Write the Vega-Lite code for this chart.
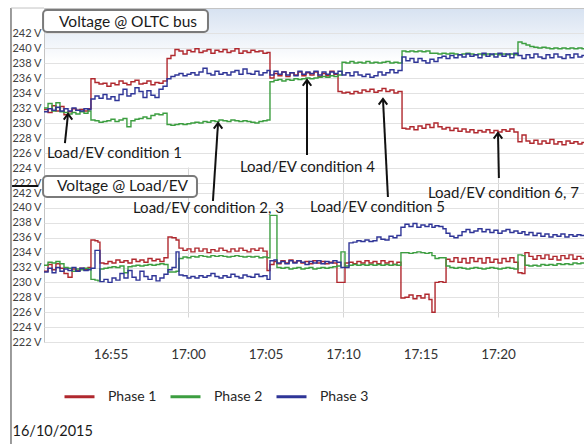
{
  "$schema": "https://vega.github.io/schema/vega-lite/v6.json",
  "width": 540,
  "height": 334,
  "autosize": {"type": "none"},
  "padding": {"left": 44, "top": 8, "right": 0, "bottom": 102},
  "background": "white",
  "config": {
    "view": {
      "stroke": "#c4c4c4",
      "fill": {"gradient": "linear", "x1": 0, "y1": 0, "x2": 0, "y2": 1,
        "stops": [{"offset": 0, "color": "#d7e2f1"}, {"offset": 0.16, "color": "#ffffff"}, {"offset": 1, "color": "#ffffff"}]}
    },
    "axis": {"labelOverlap": false},
    "font": "Lato"
  },
  "datasets": {
    "oltc": [
      {"t":50.71,"p1":231.8,"p2":232.0,"p3":231.5},
      {"t":50.97,"p1":231.4,"p2":232.6,"p3":231.9},
      {"t":51.23,"p1":232.3,"p2":231.6,"p3":231.7},
      {"t":51.48,"p1":231.6,"p2":232.7,"p3":232.1},
      {"t":51.74,"p1":232.2,"p2":231.5,"p3":231.6},
      {"t":52.00,"p1":231.1,"p2":231.4,"p3":231.9},
      {"t":52.26,"p1":231.5,"p2":231.2,"p3":231.6},
      {"t":52.52,"p1":231.9,"p2":231.4,"p3":232.0},
      {"t":52.77,"p1":231.7,"p2":231.2,"p3":231.7},
      {"t":53.03,"p1":231.8,"p2":231.5,"p3":231.6},
      {"t":53.29,"p1":231.6,"p2":231.3,"p3":231.9},
      {"t":53.55,"p1":231.9,"p2":231.6,"p3":231.8},
      {"t":53.74,"p1":235.9,"p2":230.4,"p3":233.2},
      {"t":54.00,"p1":235.4,"p2":230.3,"p3":233.6},
      {"t":54.26,"p1":235.2,"p2":230.1,"p3":233.3},
      {"t":54.52,"p1":235.3,"p2":230.2,"p3":233.8},
      {"t":54.77,"p1":234.9,"p2":230.3,"p3":233.2},
      {"t":55.03,"p1":235.3,"p2":230.5,"p3":233.5},
      {"t":55.29,"p1":235.1,"p2":230.2,"p3":233.0},
      {"t":55.55,"p1":235.6,"p2":230.4,"p3":233.8},
      {"t":55.81,"p1":235.3,"p2":230.6,"p3":234.5},
      {"t":56.06,"p1":235.1,"p2":229.5,"p3":233.6},
      {"t":56.32,"p1":235.5,"p2":230.3,"p3":233.9},
      {"t":56.58,"p1":235.7,"p2":230.5,"p3":234.7},
      {"t":56.84,"p1":235.2,"p2":230.6,"p3":234.2},
      {"t":57.10,"p1":235.3,"p2":230.8,"p3":233.4},
      {"t":57.35,"p1":235.6,"p2":230.6,"p3":234.3},
      {"t":57.61,"p1":235.1,"p2":231.0,"p3":233.7},
      {"t":57.87,"p1":235.4,"p2":231.2,"p3":233.4},
      {"t":58.13,"p1":235.3,"p2":231.1,"p3":234.5},
      {"t":58.39,"p1":235.6,"p2":231.3,"p3":234.9},
      {"t":58.65,"p1":238.6,"p2":229.8,"p3":235.9},
      {"t":58.90,"p1":239.0,"p2":229.7,"p3":236.2},
      {"t":59.16,"p1":239.8,"p2":229.8,"p3":236.4},
      {"t":59.42,"p1":239.6,"p2":229.9,"p3":236.6},
      {"t":59.68,"p1":239.2,"p2":229.8,"p3":236.3},
      {"t":59.94,"p1":239.7,"p2":229.9,"p3":236.5},
      {"t":60.19,"p1":239.5,"p2":230.0,"p3":236.7},
      {"t":60.45,"p1":239.9,"p2":230.1,"p3":236.4},
      {"t":60.71,"p1":239.4,"p2":230.0,"p3":236.8},
      {"t":60.97,"p1":239.6,"p2":230.2,"p3":237.3},
      {"t":61.23,"p1":239.8,"p2":230.1,"p3":236.6},
      {"t":61.48,"p1":239.3,"p2":230.3,"p3":236.4},
      {"t":61.74,"p1":239.7,"p2":230.2,"p3":236.9},
      {"t":62.00,"p1":239.5,"p2":230.4,"p3":236.5},
      {"t":62.26,"p1":239.8,"p2":230.3,"p3":236.7},
      {"t":62.52,"p1":239.4,"p2":230.2,"p3":236.4},
      {"t":62.77,"p1":239.6,"p2":230.4,"p3":236.8},
      {"t":63.03,"p1":239.9,"p2":230.3,"p3":237.0},
      {"t":63.29,"p1":239.3,"p2":230.2,"p3":236.5},
      {"t":63.55,"p1":239.6,"p2":230.3,"p3":237.2},
      {"t":63.81,"p1":239.4,"p2":230.2,"p3":236.6},
      {"t":64.06,"p1":239.7,"p2":230.1,"p3":236.5},
      {"t":64.32,"p1":239.5,"p2":230.0,"p3":236.9},
      {"t":64.58,"p1":239.6,"p2":230.2,"p3":236.4},
      {"t":64.84,"p1":239.3,"p2":230.3,"p3":236.7},
      {"t":65.10,"p1":239.4,"p2":230.4,"p3":237.0},
      {"t":65.29,"p1":236.0,"p2":235.5,"p3":236.4},
      {"t":65.55,"p1":236.6,"p2":235.7,"p3":236.9},
      {"t":65.81,"p1":236.3,"p2":235.8,"p3":236.5},
      {"t":66.06,"p1":236.8,"p2":235.6,"p3":236.8},
      {"t":66.32,"p1":236.2,"p2":235.8,"p3":236.4},
      {"t":66.58,"p1":236.7,"p2":235.7,"p3":236.7},
      {"t":66.84,"p1":236.4,"p2":235.9,"p3":236.3},
      {"t":67.10,"p1":236.8,"p2":235.8,"p3":236.9},
      {"t":67.35,"p1":236.3,"p2":235.9,"p3":236.5},
      {"t":67.61,"p1":236.7,"p2":236.0,"p3":236.8},
      {"t":67.87,"p1":236.4,"p2":235.9,"p3":236.6},
      {"t":68.13,"p1":236.8,"p2":236.0,"p3":236.9},
      {"t":68.39,"p1":236.2,"p2":236.1,"p3":236.4},
      {"t":68.65,"p1":236.6,"p2":236.2,"p3":236.8},
      {"t":68.90,"p1":236.3,"p2":236.1,"p3":236.5},
      {"t":69.16,"p1":236.9,"p2":236.3,"p3":236.8},
      {"t":69.42,"p1":236.5,"p2":236.2,"p3":236.6},
      {"t":69.68,"p1":234.2,"p2":236.4,"p3":236.9},
      {"t":69.94,"p1":234.0,"p2":238.1,"p3":236.4},
      {"t":70.19,"p1":234.1,"p2":238.0,"p3":236.7},
      {"t":70.45,"p1":233.9,"p2":238.2,"p3":236.3},
      {"t":70.71,"p1":234.2,"p2":238.0,"p3":236.8},
      {"t":70.97,"p1":234.0,"p2":238.1,"p3":236.4},
      {"t":71.23,"p1":234.4,"p2":238.0,"p3":236.2},
      {"t":71.48,"p1":234.2,"p2":238.2,"p3":236.5},
      {"t":71.74,"p1":234.5,"p2":238.0,"p3":236.1},
      {"t":72.00,"p1":234.1,"p2":238.1,"p3":236.3},
      {"t":72.26,"p1":234.3,"p2":238.0,"p3":236.8},
      {"t":72.52,"p1":234.6,"p2":238.1,"p3":236.4},
      {"t":72.77,"p1":234.2,"p2":238.2,"p3":236.7},
      {"t":73.03,"p1":234.4,"p2":238.0,"p3":237.1},
      {"t":73.29,"p1":234.0,"p2":238.1,"p3":236.7},
      {"t":73.55,"p1":234.2,"p2":238.0,"p3":237.0},
      {"t":73.81,"p1":229.3,"p2":239.6,"p3":238.8},
      {"t":74.06,"p1":229.2,"p2":239.5,"p3":238.3},
      {"t":74.32,"p1":229.5,"p2":239.6,"p3":238.6},
      {"t":74.58,"p1":229.1,"p2":239.5,"p3":238.1},
      {"t":74.84,"p1":229.6,"p2":239.6,"p3":238.6},
      {"t":75.10,"p1":229.3,"p2":239.5,"p3":238.3},
      {"t":75.35,"p1":229.8,"p2":239.6,"p3":238.0},
      {"t":75.61,"p1":229.4,"p2":239.3,"p3":238.5},
      {"t":75.87,"p1":230.0,"p2":239.3,"p3":238.2},
      {"t":76.13,"p1":229.5,"p2":239.2,"p3":238.7},
      {"t":76.39,"p1":229.2,"p2":239.3,"p3":238.9},
      {"t":76.65,"p1":229.4,"p2":239.2,"p3":238.6},
      {"t":76.90,"p1":229.0,"p2":239.3,"p3":239.0},
      {"t":77.16,"p1":229.3,"p2":239.2,"p3":238.7},
      {"t":77.42,"p1":228.9,"p2":239.1,"p3":239.1},
      {"t":77.68,"p1":229.2,"p2":239.2,"p3":238.8},
      {"t":77.94,"p1":228.8,"p2":239.3,"p3":239.2},
      {"t":78.19,"p1":229.1,"p2":239.2,"p3":238.9},
      {"t":78.45,"p1":228.7,"p2":239.1,"p3":239.1},
      {"t":78.71,"p1":229.0,"p2":239.2,"p3":238.7},
      {"t":78.97,"p1":228.8,"p2":239.1,"p3":239.3},
      {"t":79.23,"p1":229.1,"p2":239.2,"p3":238.9},
      {"t":79.48,"p1":228.7,"p2":239.1,"p3":239.2},
      {"t":79.74,"p1":229.0,"p2":239.2,"p3":238.8},
      {"t":80.00,"p1":228.8,"p2":239.1,"p3":239.3},
      {"t":80.26,"p1":229.1,"p2":239.2,"p3":238.9},
      {"t":80.52,"p1":228.9,"p2":239.1,"p3":239.2},
      {"t":80.77,"p1":229.2,"p2":239.2,"p3":238.7},
      {"t":81.03,"p1":228.8,"p2":239.1,"p3":239.3},
      {"t":81.29,"p1":227.5,"p2":240.8,"p3":239.0},
      {"t":81.55,"p1":228.4,"p2":240.6,"p3":238.6},
      {"t":81.81,"p1":227.6,"p2":240.4,"p3":239.1},
      {"t":82.06,"p1":227.3,"p2":240.2,"p3":238.7},
      {"t":82.32,"p1":227.7,"p2":240.1,"p3":239.2},
      {"t":82.58,"p1":227.2,"p2":240.0,"p3":238.8},
      {"t":82.84,"p1":227.6,"p2":240.1,"p3":238.6},
      {"t":83.10,"p1":227.3,"p2":240.0,"p3":239.1},
      {"t":83.35,"p1":227.8,"p2":239.9,"p3":238.7},
      {"t":83.61,"p1":227.2,"p2":240.0,"p3":239.2},
      {"t":83.87,"p1":227.5,"p2":239.9,"p3":238.8},
      {"t":84.13,"p1":227.1,"p2":240.0,"p3":238.6},
      {"t":84.39,"p1":227.6,"p2":239.9,"p3":239.1},
      {"t":84.65,"p1":227.3,"p2":240.0,"p3":238.7},
      {"t":84.90,"p1":227.5,"p2":239.9,"p3":239.2},
      {"t":85.16,"p1":227.2,"p2":240.0,"p3":238.8},
      {"t":85.42,"p1":227.4,"p2":239.9,"p3":239.0},
      {"t":85.68,"p1":227.3,"p2":240.0,"p3":238.9}
    ],
    "load": [
      {"t":50.71,"p1":231.5,"p2":232.3,"p3":231.4},
      {"t":50.97,"p1":232.4,"p2":232.7,"p3":231.9},
      {"t":51.23,"p1":231.7,"p2":232.6,"p3":231.3},
      {"t":51.48,"p1":232.5,"p2":232.8,"p3":232.0},
      {"t":51.74,"p1":231.9,"p2":232.5,"p3":231.5},
      {"t":52.00,"p1":231.2,"p2":232.0,"p3":231.8},
      {"t":52.26,"p1":230.7,"p2":231.9,"p3":231.6},
      {"t":52.52,"p1":231.8,"p2":231.5,"p3":232.0},
      {"t":52.77,"p1":231.6,"p2":231.8,"p3":231.5},
      {"t":53.03,"p1":231.9,"p2":231.7,"p3":231.9},
      {"t":53.29,"p1":231.7,"p2":231.9,"p3":231.6},
      {"t":53.55,"p1":232.0,"p2":231.8,"p3":231.7},
      {"t":53.74,"p1":235.7,"p2":230.4,"p3":231.9},
      {"t":54.00,"p1":235.6,"p2":230.3,"p3":234.3},
      {"t":54.19,"p1":235.4,"p2":230.2,"p3":234.3},
      {"t":54.32,"p1":232.6,"p2":231.8,"p3":230.1},
      {"t":54.58,"p1":232.5,"p2":231.9,"p3":230.4},
      {"t":54.84,"p1":232.8,"p2":232.0,"p3":230.0},
      {"t":55.10,"p1":232.6,"p2":232.1,"p3":230.6},
      {"t":55.35,"p1":233.0,"p2":232.0,"p3":230.3},
      {"t":55.61,"p1":232.7,"p2":232.2,"p3":231.2},
      {"t":55.87,"p1":232.9,"p2":231.3,"p3":230.6},
      {"t":56.13,"p1":232.6,"p2":232.1,"p3":231.6},
      {"t":56.39,"p1":233.1,"p2":232.2,"p3":230.7},
      {"t":56.65,"p1":232.8,"p2":232.3,"p3":230.3},
      {"t":56.90,"p1":233.0,"p2":232.2,"p3":231.5},
      {"t":57.16,"p1":232.7,"p2":232.3,"p3":230.8},
      {"t":57.42,"p1":233.2,"p2":232.4,"p3":230.4},
      {"t":57.68,"p1":232.9,"p2":232.3,"p3":230.9},
      {"t":57.94,"p1":233.1,"p2":232.4,"p3":230.2},
      {"t":58.19,"p1":232.8,"p2":232.5,"p3":230.6},
      {"t":58.45,"p1":233.3,"p2":232.4,"p3":231.1},
      {"t":58.71,"p1":236.1,"p2":231.4,"p3":231.7},
      {"t":58.97,"p1":236.0,"p2":231.4,"p3":232.0},
      {"t":59.23,"p1":235.7,"p2":231.5,"p3":234.1},
      {"t":59.42,"p1":234.6,"p2":233.2,"p3":231.0},
      {"t":59.68,"p1":234.3,"p2":233.4,"p3":230.9},
      {"t":59.94,"p1":234.5,"p2":233.3,"p3":230.6},
      {"t":60.19,"p1":234.1,"p2":233.5,"p3":230.8},
      {"t":60.45,"p1":234.6,"p2":233.4,"p3":230.6},
      {"t":60.71,"p1":234.2,"p2":233.6,"p3":230.9},
      {"t":60.97,"p1":234.5,"p2":233.5,"p3":230.7},
      {"t":61.23,"p1":234.0,"p2":233.4,"p3":230.9},
      {"t":61.48,"p1":234.4,"p2":233.6,"p3":231.2},
      {"t":61.74,"p1":234.2,"p2":233.5,"p3":230.8},
      {"t":62.00,"p1":234.6,"p2":233.6,"p3":230.6},
      {"t":62.26,"p1":234.3,"p2":233.5,"p3":230.9},
      {"t":62.52,"p1":234.1,"p2":233.4,"p3":230.7},
      {"t":62.77,"p1":234.5,"p2":233.5,"p3":231.1},
      {"t":63.03,"p1":234.2,"p2":233.6,"p3":230.8},
      {"t":63.29,"p1":234.6,"p2":233.5,"p3":230.6},
      {"t":63.55,"p1":234.3,"p2":233.4,"p3":231.0},
      {"t":63.81,"p1":234.1,"p2":233.5,"p3":230.8},
      {"t":64.06,"p1":234.5,"p2":233.4,"p3":230.7},
      {"t":64.32,"p1":234.3,"p2":233.5,"p3":231.1},
      {"t":64.58,"p1":234.6,"p2":233.3,"p3":230.8},
      {"t":64.84,"p1":234.2,"p2":233.4,"p3":230.9},
      {"t":65.10,"p1":231.6,"p2":233.3,"p3":230.4},
      {"t":65.29,"p1":232.4,"p2":239.0,"p3":232.9},
      {"t":65.55,"p1":232.8,"p2":239.0,"p3":233.0},
      {"t":65.74,"p1":232.5,"p2":232.0,"p3":232.6},
      {"t":66.00,"p1":232.9,"p2":231.9,"p3":232.8},
      {"t":66.26,"p1":232.6,"p2":232.0,"p3":232.5},
      {"t":66.52,"p1":233.0,"p2":231.8,"p3":232.9},
      {"t":66.77,"p1":232.7,"p2":231.9,"p3":232.6},
      {"t":67.03,"p1":232.9,"p2":232.0,"p3":232.9},
      {"t":67.29,"p1":232.6,"p2":231.8,"p3":232.7},
      {"t":67.55,"p1":232.8,"p2":231.9,"p3":232.4},
      {"t":67.81,"p1":232.5,"p2":232.0,"p3":232.8},
      {"t":68.06,"p1":232.9,"p2":231.8,"p3":232.6},
      {"t":68.32,"p1":232.6,"p2":231.9,"p3":232.9},
      {"t":68.58,"p1":232.8,"p2":232.0,"p3":232.5},
      {"t":68.84,"p1":232.5,"p2":231.9,"p3":232.8},
      {"t":69.10,"p1":232.7,"p2":232.0,"p3":232.6},
      {"t":69.35,"p1":232.6,"p2":232.1,"p3":232.9},
      {"t":69.61,"p1":230.0,"p2":232.2,"p3":232.7},
      {"t":69.87,"p1":230.0,"p2":234.1,"p3":232.0},
      {"t":70.13,"p1":232.6,"p2":232.2,"p3":232.0},
      {"t":70.39,"p1":232.7,"p2":232.3,"p3":235.3},
      {"t":70.65,"p1":232.5,"p2":232.4,"p3":235.4},
      {"t":70.90,"p1":232.8,"p2":232.3,"p3":235.6},
      {"t":71.16,"p1":232.6,"p2":232.4,"p3":235.5},
      {"t":71.42,"p1":232.9,"p2":232.3,"p3":235.7},
      {"t":71.68,"p1":232.6,"p2":232.4,"p3":235.5},
      {"t":71.94,"p1":232.8,"p2":232.3,"p3":235.6},
      {"t":72.19,"p1":232.5,"p2":232.4,"p3":236.1},
      {"t":72.45,"p1":232.9,"p2":232.3,"p3":235.8},
      {"t":72.71,"p1":232.6,"p2":232.4,"p3":235.7},
      {"t":72.97,"p1":232.8,"p2":232.3,"p3":236.2},
      {"t":73.23,"p1":232.4,"p2":232.4,"p3":236.0},
      {"t":73.48,"p1":232.7,"p2":232.3,"p3":236.3},
      {"t":73.74,"p1":227.9,"p2":234.0,"p3":237.4},
      {"t":74.00,"p1":228.0,"p2":234.0,"p3":237.8},
      {"t":74.26,"p1":228.3,"p2":233.9,"p3":237.5},
      {"t":74.52,"p1":227.8,"p2":234.0,"p3":237.9},
      {"t":74.77,"p1":228.2,"p2":234.1,"p3":237.4},
      {"t":75.03,"p1":227.9,"p2":234.0,"p3":237.7},
      {"t":75.29,"p1":228.4,"p2":233.9,"p3":237.5},
      {"t":75.55,"p1":227.7,"p2":234.0,"p3":237.8},
      {"t":75.74,"p1":226.0,"p2":233.6,"p3":237.4},
      {"t":75.94,"p1":230.0,"p2":233.2,"p3":237.6},
      {"t":76.19,"p1":230.1,"p2":233.3,"p3":237.5},
      {"t":76.45,"p1":230.0,"p2":233.3,"p3":237.2},
      {"t":76.65,"p1":233.1,"p2":232.2,"p3":236.6},
      {"t":76.90,"p1":232.8,"p2":232.0,"p3":236.2},
      {"t":77.16,"p1":233.3,"p2":231.9,"p3":236.0},
      {"t":77.42,"p1":232.7,"p2":232.0,"p3":236.3},
      {"t":77.68,"p1":233.2,"p2":231.9,"p3":236.8},
      {"t":77.94,"p1":232.6,"p2":231.8,"p3":237.1},
      {"t":78.19,"p1":233.3,"p2":231.9,"p3":236.7},
      {"t":78.45,"p1":232.8,"p2":232.0,"p3":236.9},
      {"t":78.71,"p1":233.2,"p2":231.9,"p3":237.2},
      {"t":78.97,"p1":232.6,"p2":231.8,"p3":236.8},
      {"t":79.23,"p1":233.3,"p2":231.9,"p3":237.1},
      {"t":79.48,"p1":232.7,"p2":232.0,"p3":236.7},
      {"t":79.74,"p1":233.1,"p2":231.9,"p3":237.0},
      {"t":80.00,"p1":232.6,"p2":231.8,"p3":236.6},
      {"t":80.26,"p1":233.2,"p2":231.9,"p3":236.9},
      {"t":80.52,"p1":232.8,"p2":232.0,"p3":237.1},
      {"t":80.77,"p1":233.3,"p2":231.9,"p3":236.7},
      {"t":81.03,"p1":232.7,"p2":231.8,"p3":236.9},
      {"t":81.29,"p1":231.3,"p2":233.7,"p3":236.6},
      {"t":81.55,"p1":231.2,"p2":233.6,"p3":236.8},
      {"t":81.74,"p1":234.0,"p2":232.3,"p3":236.4},
      {"t":82.00,"p1":233.5,"p2":232.2,"p3":236.7},
      {"t":82.26,"p1":233.1,"p2":232.3,"p3":236.3},
      {"t":82.52,"p1":233.6,"p2":232.2,"p3":236.6},
      {"t":82.77,"p1":233.2,"p2":232.4,"p3":236.2},
      {"t":83.03,"p1":233.7,"p2":232.3,"p3":236.5},
      {"t":83.29,"p1":233.1,"p2":232.4,"p3":236.1},
      {"t":83.55,"p1":233.5,"p2":232.3,"p3":236.4},
      {"t":83.81,"p1":233.0,"p2":232.5,"p3":236.2},
      {"t":84.06,"p1":233.6,"p2":232.4,"p3":236.5},
      {"t":84.32,"p1":233.2,"p2":232.5,"p3":236.1},
      {"t":84.58,"p1":233.7,"p2":232.4,"p3":236.4},
      {"t":84.84,"p1":233.1,"p2":232.6,"p3":236.2},
      {"t":85.10,"p1":233.5,"p2":232.5,"p3":236.4},
      {"t":85.35,"p1":233.2,"p2":232.6,"p3":236.3},
      {"t":85.68,"p1":233.4,"p2":232.6,"p3":236.3}
    ],
    "notes": [
      {"t":50.90,"v":226.0,"label":"Load/EV condition 1"},
      {"t":56.45,"v":218.67,"label":"Load/EV condition 2, 3"},
      {"t":63.35,"v":224.13,"label":"Load/EV condition 4"},
      {"t":67.87,"v":218.8,"label":"Load/EV condition 5"},
      {"t":75.48,"v":220.67,"label":"Load/EV condition 6, 7"}
    ],
    "arrows": [
      {"t":52.06,"v":227.33,"t2":52.26,"v2":231.2},
      {"t":61.61,"v":219.6,"t2":61.94,"v2":230.0},
      {"t":67.68,"v":225.73,"t2":67.68,"v2":235.73},
      {"t":72.90,"v":220.13,"t2":72.58,"v2":233.2},
      {"t":80.06,"v":222.67,"t2":80.00,"v2":228.67}
    ],
    "boxes": [
      {"t":50.65,"t2":61.29,"v":245.07,"v2":242.13,"tt":51.68,"vt":243.5,"label":"Voltage @ OLTC bus"},
      {"t":50.65,"t2":60.58,"v":222.93,"v2":220.13,"tt":51.55,"vt":221.6,"label":"Voltage @ Load/EV"}
    ]
  },
  "resolve": {"scale": {"y": "independent"}, "axis": {"y": "independent"}},
  "layer": [
    {
      "data": {"name": "oltc"},
      "transform": [{"fold": ["p1", "p2", "p3"], "as": ["phase", "v"]}],
      "mark": {"type": "line", "interpolate": "step-after", "strokeWidth": 1.4, "clip": true},
      "encoding": {
        "x": {"field": "t", "type": "quantitative", "title": null,
          "scale": {"domain": [50.71, 85.55], "nice": false, "zero": false},
          "axis": {"values": [55, 60, 65, 70, 75, 80],
            "labelExpr": "datum.value < 60 ? '16:' + datum.value : '17:' + (datum.value < 70 ? '0' : '') + (datum.value - 60)",
            "ticks": false, "domain": false, "labelPadding": 5, "labelFont": "Lato", "labelFontSize": 13.5, "labelColor": "#333333",
            "grid": true, "gridColor": "#d6d6d6",
            "gridOpacity": {"condition": {"test": "datum.value % 10 === 0", "value": 1}, "value": 0}}},
        "y": {"field": "v", "type": "quantitative", "title": null,
          "scale": {"domain": [222, 242], "range": [175, 25], "nice": false, "zero": false},
          "axis": {"orient": "left", "values": [222, 224, 226, 228, 230, 232, 234, 236, 238, 240, 242],
            "labelExpr": "datum.value + ' V'", "labelOverlap": false, "ticks": false, "domain": false, "labelPadding": 3,
            "labelFont": "Lato", "labelFontSize": 11, "labelColor": "#404040", "grid": true, "gridColor": "#e2e2e2"}},
        "color": {"field": "phase", "type": "nominal", "title": null,
          "scale": {"domain": ["p1", "p2", "p3"], "range": ["#b0282e", "#3c9e40", "#2f3597"]},
          "legend": {"orient": "none", "legendX": 19, "legendY": 372, "direction": "horizontal",
            "symbolType": "stroke", "symbolSize": 900, "symbolStrokeWidth": 3, "labelExpr": "'Phase ' + slice(datum.label, 1)",
            "labelFont": "Lato", "labelFontSize": 14, "labelColor": "#262626", "labelOffset": 12, "columnPadding": 7}}
      }
    },
    {
      "data": {"name": "load"},
      "transform": [{"fold": ["p1", "p2", "p3"], "as": ["phase", "v"]}],
      "mark": {"type": "line", "interpolate": "step-after", "strokeWidth": 1.4, "clip": true},
      "encoding": {
        "x": {"field": "t", "type": "quantitative", "title": null},
        "y": {"field": "v", "type": "quantitative", "title": null,
          "scale": {"domain": [222, 242], "range": [334, 185], "nice": false, "zero": false},
          "axis": {"orient": "left", "values": [222, 224, 226, 228, 230, 232, 234, 236, 238, 240, 242],
            "labelExpr": "datum.value + ' V'", "labelOverlap": false, "ticks": false, "domain": false, "labelPadding": 3,
            "labelFont": "Lato", "labelFontSize": 11, "labelColor": "#404040", "grid": true, "gridColor": "#e2e2e2"}},
        "color": {"field": "phase", "type": "nominal", "title": null,
          "scale": {"domain": ["p1", "p2", "p3"], "range": ["#b0282e", "#3c9e40", "#2f3597"]},
          "legend": {"orient": "none", "legendX": 19, "legendY": 372, "direction": "horizontal",
            "symbolType": "stroke", "symbolSize": 900, "symbolStrokeWidth": 3, "labelExpr": "'Phase ' + slice(datum.label, 1)",
            "labelFont": "Lato", "labelFontSize": 14, "labelColor": "#262626", "labelOffset": 12, "columnPadding": 7}}
      }
    },
    {
      "layer": [
        {
          "data": {"name": "boxes"},
          "mark": {"type": "rect", "fill": "white", "stroke": "#7a7a7a", "strokeWidth": 2, "cornerRadius": 4, "clip": false},
          "encoding": {
            "x": {"field": "t", "type": "quantitative", "title": null},
            "x2": {"field": "t2"},
            "y": {"field": "v", "type": "quantitative", "axis": null,
              "scale": {"domain": [222, 242], "range": [175, 25], "nice": false, "zero": false}},
            "y2": {"field": "v2"}
          }
        },
        {
          "data": {"name": "boxes"},
          "mark": {"type": "text", "align": "left", "baseline": "middle", "font": "Lato", "fontSize": 15.5, "color": "#1a1a1a", "clip": false},
          "encoding": {
            "x": {"field": "tt", "type": "quantitative", "title": null},
            "y": {"field": "vt", "type": "quantitative", "axis": null},
            "text": {"field": "label"}
          }
        },
        {
          "data": {"name": "arrows"},
          "mark": {"type": "rule", "color": "#111111", "strokeWidth": 2, "clip": false},
          "encoding": {
            "x": {"field": "t", "type": "quantitative", "title": null},
            "x2": {"field": "t2"},
            "y": {"field": "v", "type": "quantitative", "axis": null},
            "y2": {"field": "v2"}
          }
        },
        {
          "data": {"name": "arrows"},
          "mark": {"type": "point", "shape": "M-0.75,1L0,0L0.75,1", "filled": false, "stroke": "#111111", "strokeWidth": 2, "size": 130, "opacity": 1, "clip": false},
          "encoding": {
            "x": {"field": "t2", "type": "quantitative", "title": null},
            "y": {"field": "v2", "type": "quantitative", "axis": null}
          }
        },
        {
          "data": {"name": "notes"},
          "mark": {"type": "text", "align": "left", "baseline": "middle", "font": "Lato", "fontSize": 15, "color": "#1a1a1a", "clip": false},
          "encoding": {
            "x": {"field": "t", "type": "quantitative", "title": null},
            "y": {"field": "v", "type": "quantitative", "axis": null},
            "text": {"field": "label"}
          }
        },
        {
          "data": {"values": [{"t": 48.58, "t2": 48.58, "v": 245.33, "v2": 187.0}]},
          "mark": {"type": "rule", "color": "#5a5a5a", "strokeWidth": 1.2, "clip": false},
          "encoding": {
            "x": {"field": "t", "type": "quantitative", "title": null},
            "x2": {"field": "t2"},
            "y": {"field": "v", "type": "quantitative", "axis": null},
            "y2": {"field": "v2"}
          }
        },
        {
          "data": {"values": [{"t": 48.58, "t2": 50.71, "v": 245.33, "v2": 245.33}]},
          "mark": {"type": "rule", "color": "#c4c4c4", "strokeWidth": 1, "clip": false},
          "encoding": {
            "x": {"field": "t", "type": "quantitative", "title": null},
            "x2": {"field": "t2"},
            "y": {"field": "v", "type": "quantitative", "axis": null},
            "y2": {"field": "v2"}
          }
        },
        {
          "data": {"values": [{"t": 48.65, "t2": 50.32, "v": 221.6, "v2": 221.6}]},
          "mark": {"type": "rule", "color": "#111111", "strokeWidth": 2, "clip": false},
          "encoding": {
            "x": {"field": "t", "type": "quantitative", "title": null},
            "x2": {"field": "t2"},
            "y": {"field": "v", "type": "quantitative", "axis": null},
            "y2": {"field": "v2"}
          }
        },
        {
          "data": {"values": [{"t": 48.68, "v": 188.8, "label": "16/10/2015"}]},
          "mark": {"type": "text", "align": "left", "baseline": "middle", "font": "Lato", "fontSize": 14.5, "color": "#1a1a1a", "clip": false},
          "encoding": {
            "x": {"field": "t", "type": "quantitative", "title": null},
            "y": {"field": "v", "type": "quantitative", "axis": null},
            "text": {"field": "label"}
          }
        }
      ]
    }
  ]
}
